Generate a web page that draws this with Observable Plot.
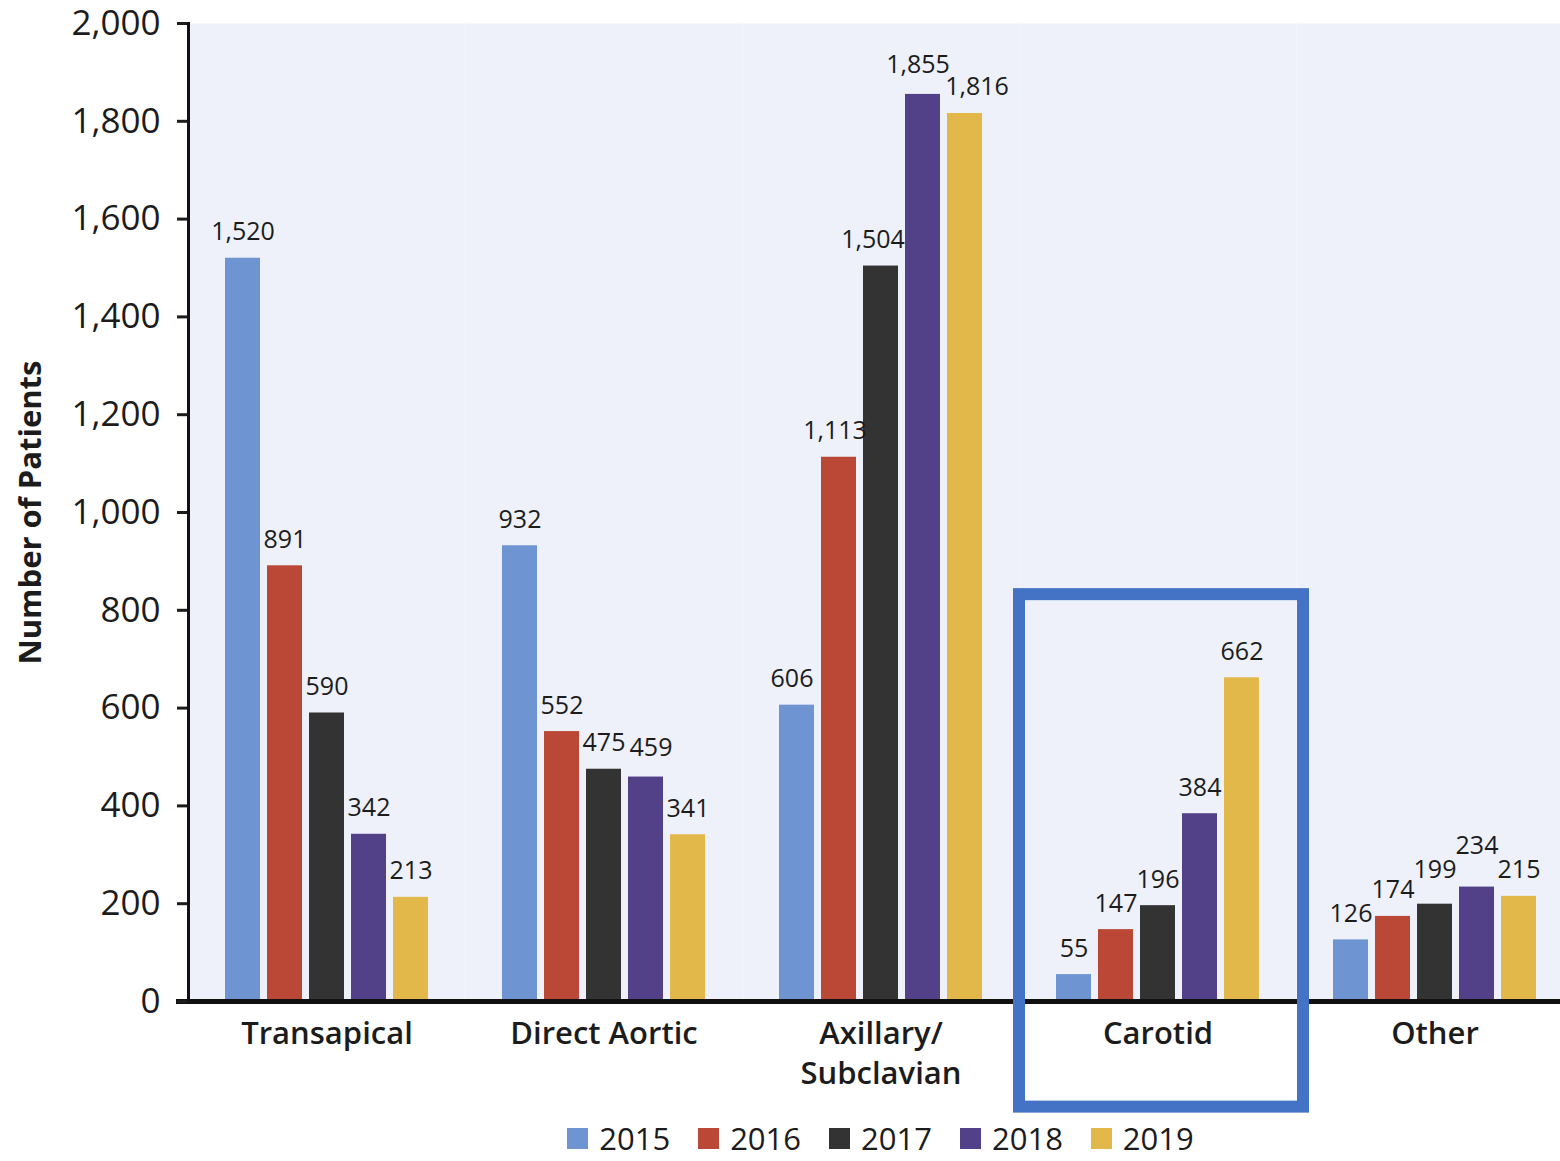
<!DOCTYPE html>
<html>
<head>
<meta charset="utf-8">
<script src="https://cdn.jsdelivr.net/npm/d3@7"></script>
<script src="https://cdn.jsdelivr.net/npm/@observablehq/plot@0.6"></script>
<style>
  html, body { margin: 0; padding: 0; background: #fff; overflow: hidden; }
  #wrap { width: 1560px; height: 1161px; position: relative; font-family: "Open Sans", sans-serif; color: #1c1c1c; }
  #legend { width: 1387px; margin-left: 187px; height: 34px; display: flex; justify-content: center; align-items: center; font-size: 31px; line-height: 0.9; margin-top: 11px; }
  #legend .item { display: flex; align-items: center; margin: 0 14px; }
  #legend .sw { width: 21px; height: 21px; margin-right: 11px; }
</style>
</head>
<body>
<div id="wrap"></div>
<script>
const groups = ["Transapical", "Direct Aortic", "Axillary/Subclavian", "Carotid", "Other"];
const years = ["2015", "2016", "2017", "2018", "2019"];
const v2015 = [1520, 932, 606, 55, 126];
const v2016 = [891, 552, 1113, 147, 174];
const v2017 = [590, 475, 1504, 196, 199];
const v2018 = [342, 459, 1855, 384, 234];
const v2019 = [213, 341, 1816, 662, 215];
const yTicks = [0, 200, 400, 600, 800, 1000, 1200, 1400, 1600, 1800, 2000];
const yLabel = "Number of Patients";
const highlightGroup = "Carotid";

const colors = ["#6f94d2", "#bb4736", "#333333", "#524189", "#e2b84b"];

const series = [v2015, v2016, v2017, v2018, v2019];
const rows = [];
groups.forEach((g, gi) => years.forEach((y, yi) => rows.push({group: g, year: y, value: series[yi][gi]})));

// label nudges (placement only)
const nudge = {
  "Direct Aortic|2018": [5, -3],
  "Axillary/Subclavian|2015": [-5, 0],
  "Axillary/Subclavian|2016": [-4, 0],
  "Axillary/Subclavian|2017": [-8, 0],
  "Axillary/Subclavian|2018": [-5, -3],
  "Axillary/Subclavian|2019": [12, 0],
  "Other|2017": [0, -8],
  "Other|2018": [0, -15]
};
const keyOf = d => d.group + "|" + d.year;
const nudgeGroups = d3.groups(rows, d => (nudge[keyOf(d)] || [0, 0]).join(","));
const fmt = d3.format(",");

const labelMarks = nudgeGroups.map(([k, data]) => {
  const [dx, dy] = k.split(",").map(Number);
  return Plot.text(data, {
    fx: "group", x: "year", y: "value", text: d => fmt(d.value),
    lineAnchor: "bottom", dx, dy: dy - 18, fontSize: 25
  });
});

const plot = Plot.plot({
  width: 1560,
  height: 1111,
  marginTop: 23,
  marginBottom: 110,
  marginLeft: 187,
  marginRight: 0,
  style: {fontFamily: "'Open Sans', sans-serif", color: "#1c1c1c", background: "transparent", overflow: "visible"},
  fx: {domain: groups, range: [187, 1574], padding: 0},
  x: {domain: years, paddingInner: 0.1765, paddingOuter: 0.852, axis: null},
  y: {domain: [0, 2000]},
  color: {domain: years, range: colors},
  marks: [
    Plot.frame({fill: "#eef1f9", stroke: "none"}),
    Plot.barY(rows, {fx: "group", x: "year", y: "value", fill: "year"}),
    Plot.ruleY([0], {stroke: "#111", strokeWidth: 5, insetLeft: -12}),
    ...labelMarks,
    Plot.axisY({ticks: yTicks, tickFormat: fmt, tickSize: 11, tickPadding: 17, strokeWidth: 3, fontSize: 35, label: null, anchor: "left"}),
    Plot.axisY({ticks: [1000], tickFormat: () => "", tickSize: 0, label: yLabel, labelAnchor: "center", labelOffset: 170, labelArrow: "none", fontSize: 31, fontWeight: 700, anchor: "left"}),
    Plot.frame({anchor: "left", fx: groups[0], stroke: "#111", strokeWidth: 3}),
    Plot.axisFx({anchor: "bottom", tickSize: 0, tickPadding: 14, fontSize: 31, fontWeight: 600, lineHeight: 1.3, label: null, tickFormat: d => d.replace("/", "/\n")}),
    Plot.rect([{group: highlightGroup}], {fx: "group", y1: -216, y2: 832, fill: "none", stroke: "#4472c4", strokeWidth: 12, insetRight: -7})
  ]
});

const wrap = document.getElementById("wrap");
wrap.appendChild(plot);

const legend = document.createElement("div");
legend.id = "legend";
years.forEach((y, i) => {
  const item = document.createElement("div");
  item.className = "item";
  const sw = document.createElement("span");
  sw.className = "sw";
  sw.style.background = colors[i];
  const t = document.createElement("span");
  t.textContent = y;
  item.appendChild(sw);
  item.appendChild(t);
  legend.appendChild(item);
});
wrap.appendChild(legend);
</script>
</body>
</html>
